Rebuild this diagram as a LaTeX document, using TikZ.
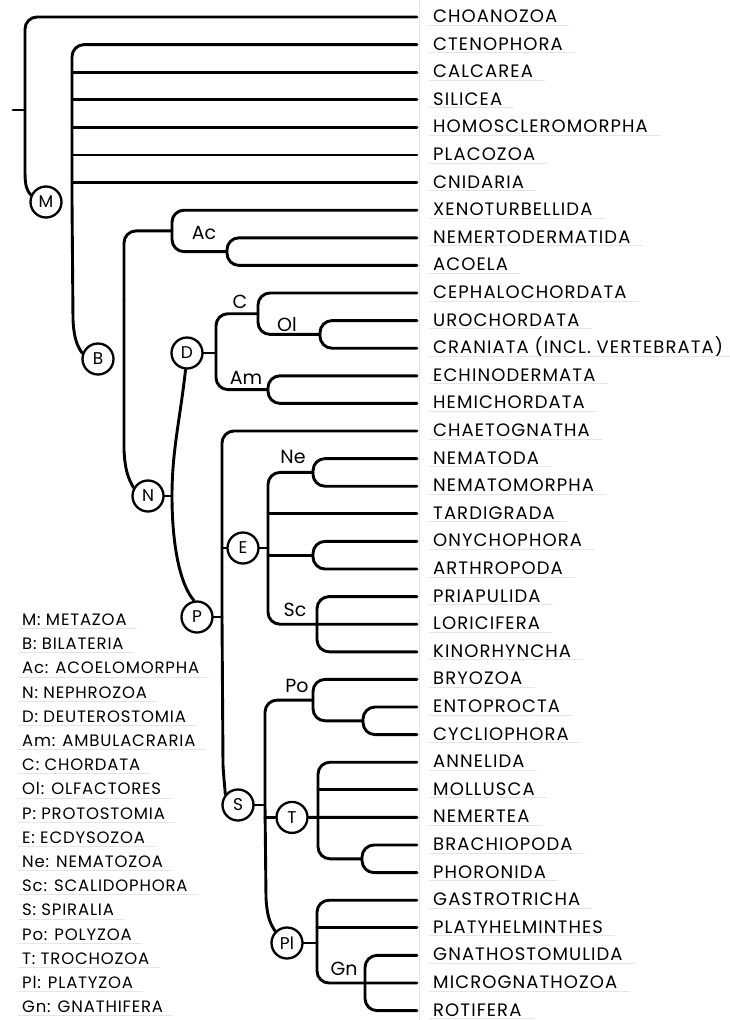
\documentclass[tikz,border=0pt]{standalone}
\usepackage{fontspec}
\setmainfont{Poppins}
\newfontfamily\handA{Poppins}[LetterSpace=6]
\newfontfamily\handB{Poppins}[LetterSpace=5]
\begin{document}
\begin{tikzpicture}[x=1pt,y=-1pt,
  br/.style={line width=2.9pt, line cap=round, line join=round},
  rc/.style={rounded corners=12pt},
  cl/.style={circle, draw, line width=2.3pt, minimum size=31pt, inner sep=0pt, font=\fontsize{17}{17}\selectfont},
  leaf/.style={anchor=base west, inner sep=0pt, font=\handA\fontsize{18}{18}\selectfont},
  cladelab/.style={inner sep=0pt, font=\fontsize{19}{19}\selectfont},
  keytext/.style={anchor=base west, inner sep=0pt, font=\handB\fontsize{16.5}{16.5}\selectfont},
  paperrule/.style={draw=black!10, line width=0.7pt}]
\useasboundingbox (0,0) rectangle (730,1020);

% faint paper margin
\draw[paperrule] (419,0) -- (419,1020);

% leaves
\foreach \n [count=\i from 0] in {CHOANOZOA, CTENOPHORA, CALCAREA, SILICEA, HOMOSCLEROMORPHA, PLACOZOA, CNIDARIA, XENOTURBELLIDA, NEMERTODERMATIDA, ACOELA, CEPHALOCHORDATA, UROCHORDATA, CRANIATA (INCL. VERTEBRATA), ECHINODERMATA, HEMICHORDATA, CHAETOGNATHA, NEMATODA, NEMATOMORPHA, TARDIGRADA, ONYCHOPHORA, ARTHROPODA, PRIAPULIDA, LORICIFERA, KINORHYNCHA, BRYOZOA, ENTOPROCTA, CYCLIOPHORA, ANNELIDA, MOLLUSCA, NEMERTEA, BRACHIOPODA, PHORONIDA, GASTROTRICHA, PLATYHELMINTHES, GNATHOSTOMULIDA, MICROGNATHOZOA, ROTIFERA}{
  \coordinate (l\i) at (417,{17+27.6*\i});
  \node[leaf] (t\i) at (433,{22.5+27.6*\i}) {\n};
  \draw[paperrule] ([xshift=-4pt,yshift=-2.5pt]t\i.base west) -- ([xshift=12pt,yshift=-2.5pt]t\i.base east);
}

% clade circles
\node[cl] (M) at (46,202) {M};
\node[cl] (B) at (98,359) {B};
\node[cl] (N) at (148,496) {N};
\node[cl] (D) at (187,353) {D};
\node[cl] (P) at (197,617) {P};
\node[cl] (E) at (243,548) {E};
\node[cl] (S) at (238,805) {S};
\node[cl] (T) at (292,817.4) {T};
\node[cl] (Pl) at (287,943) {Pl};

% internal coordinates
\coordinate (stub) at (13,110);
\coordinate (root) at (25,110);
\coordinate (mv) at (72,200);
\coordinate (xa) at (172,230.9);
\coordinate (bv) at (124,300);
\coordinate (ac) at (227,251.6);
\coordinate (nv) at (172,496);
\coordinate (dv) at (216,353);
\coordinate (cc) at (258,313.7);
\coordinate (ol) at (320,334.4);
\coordinate (am) at (268,389.6);
\coordinate (pv) at (222,617);
\coordinate (ev) at (268,548);
\coordinate (ne) at (313,472.4);
\coordinate (oa) at (313,555.2);
\coordinate (sc) at (317,624.2);
\coordinate (sv) at (265,805);
\coordinate (po) at (313,700.1);
\coordinate (ec) at (363,720.8);
\coordinate (tv) at (318,817.4);
\coordinate (bp) at (362,858.8);
\coordinate (plv) at (317,943);
\coordinate (gn) at (365,983);

% root
\draw[br] (stub) -- (root);
\draw[br,rc] (l0) -| (root);
\draw[br] (root) -- (25,172) .. controls (25,186) and (27,191) .. (M.155);

% Metazoa
\draw[br,rc] (l1) -| (mv);
\draw[br] (mv) -- (73,320) .. controls (74,338) and (77,346) .. (B.160);
\foreach \i in {2,...,6} \draw[br] (l\i) -- (l\i -| mv);

% Bilateria
\draw[br,rc] (xa) -| (bv);
\draw[br] (bv) -- (124,450) .. controls (125,470) and (128,478) .. (N.150);
\draw[br,rc] (l7) -| (ac -| xa) -- (ac);
\draw[br,rc] (l8) -| (l9 -| ac) -- (l9);
\node[cladelab] (lAc) at (204,233) {Ac};

% Nephrozoa
\draw[br] (N.east) -- (nv);
\draw[br] (D.-95) .. controls (180,420) and (172,450) .. (nv) .. controls (172,545) and (180,585) .. (P.100);

% Deuterostomia
\draw[br] (D.east) -- (dv);
\draw[br,rc] (cc) -| (am -| dv) -- (am);
\draw[br,rc] (l10) -| (ol -| cc) -- (ol);
\draw[br,rc] (l11) -| (l12 -| ol) -- (l12);
\draw[br,rc] (l13) -| (l14 -| am) -- (l14);
\node[cladelab] (lC) at (240,302) {C};
\node[cladelab] (lOl) at (287,325) {Ol};
\node[cladelab] (lAm) at (246,378) {Am};

% Protostomia
\draw[br] (P.east) -- (pv);
\draw[br,rc] (l15) -| (pv);
\draw[br] (pv) -- (223,765) .. controls (224,782) and (225,788) .. (S.140);

% Ecdysozoa
\draw[br] (E.west) -- (E.west -| pv);
\draw[br] (E.east) -- (ev);
\draw[br,rc] (ne) -| (l22 -| ev) -- (l22);
\draw[br] (l18) -- (l18 -| ev);
\draw[br] (oa) -- (oa -| ev);
\draw[br,rc] (l16) -| (l17 -| ne) -- (l17);
\draw[br,rc] (l19) -| (l20 -| oa) -- (l20);
\draw[br,rc] (l21) -| (l23 -| sc) -- (l23);
\node[cladelab] (lNe) at (293,457) {Ne};
\node[cladelab] (lSc) at (295,610) {Sc};

% Spiralia
\draw[br] (S.east) -- (sv);
\draw[br,rc] (po) -| (sv);
\draw[br] (sv) -- (266,898) .. controls (267,914) and (269,922) .. (Pl.135);
\draw[br,rc] (l24) -| (ec -| po) -- (ec);
\draw[br,rc] (l25) -| (l26 -| ec) -- (l26);
\node[cladelab] (lPo) at (297,686) {Po};

% Trochozoa
\draw[br] (T.west) -- (T.west -| sv);
\draw[br,rc] (l27) -| (bp -| tv) -- (bp);
\draw[br] (l28) -- (l28 -| tv);
\draw[br] (T.east) -- (l29);
\draw[br,rc] (l30) -| (l31 -| bp) -- (l31);

% Platyzoa
\draw[br] (Pl.east) -- (plv);
\draw[br,rc] (l32) -| (l35 -| plv) -- (l35);
\draw[br] (l33) -- (l33 -| plv);
\draw[br,rc] (l34) -| (l36 -| gn) -- (l36);
\node[cladelab] (lGn) at (344,969) {Gn};

% legend
\foreach \t [count=\i from 0] in {M: METAZOA, B: BILATERIA, Ac: ACOELOMORPHA, N: NEPHROZOA, D: DEUTEROSTOMIA, Am: AMBULACRARIA, C: CHORDATA, Ol: OLFACTORES, P: PROTOSTOMIA, E: ECDYSOZOA, Ne: NEMATOZOA, Sc: SCALIDOPHORA, S: SPIRALIA, Po: POLYZOA, T: TROCHOZOA, Pl: PLATYZOA, Gn: GNATHIFERA}{
  \node[keytext] (k\i) at (22,{625.5+24.2*\i}) {\t};
  \draw[paperrule] ([xshift=-4pt,yshift=-3pt]k\i.base west) -- ([xshift=10pt,yshift=-3pt]k\i.base east);
}
\end{tikzpicture}
\end{document}
